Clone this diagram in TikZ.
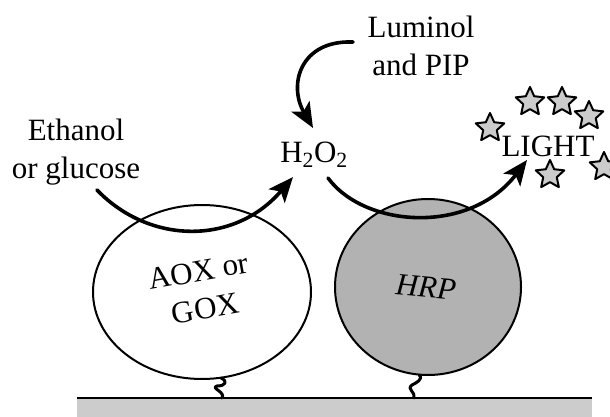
\documentclass[tikz,border=0pt]{standalone}
\usepackage{fontspec}
\setmainfont{Liberation Serif}
\usetikzlibrary{arrows.meta,shapes.geometric}
\tikzset{
  enzline/.style={line width=2pt},
  flow/.style={->,line width=3.6pt,line cap=round},
  tether/.style={line width=3pt,line cap=round},
  glow/.style={star,star points=5,star point ratio=2.1,minimum size=30pt,inner sep=0pt,draw,line width=2pt,fill=gray!40}
}
\begin{document}
\begin{tikzpicture}[x=1pt,y=-1pt,>={Stealth[length=25pt,width=21pt,inset=6pt]}, font=\fontsize{31}{38}\selectfont, line join=round]
\useasboundingbox (0,0) rectangle (610,417);
\fill[gray!40] (77,398) rectangle (592,417);
\draw[line width=2pt] (77,398)--(592,398);
\draw[enzline,fill=white] (202,292) ellipse [x radius=109, y radius=87];
\draw[enzline,fill=gray!60] (428,287) ellipse [x radius=93, y radius=88];
\draw[tether] (221,378) .. controls (228,381) and (226,386) .. (217,386) .. controls (210,388) and (226,392) .. (222,398);
\draw[tether] (419,375) .. controls (424,379) and (416,383) .. (412,385) .. controls (406,389) and (416,392) .. (414,398);
\node[align=center] (eth) at (76,152) {Ethanol\\or glucose};
\node[align=center] (lum) at (421,46) {Luminol\\and PIP};
\node[anchor=base] (hoo) at (314,162) {H\textsubscript{2}O\textsubscript{2}};
\node[anchor=base] (lgt) at (548,157) {LIGHT};
\node[align=center,rotate=10] (aox) at (202,290) {AOX or\\GOX};
\node[rotate=-5] (hrp) at (426,287) {\itshape HRP};
\coordinate (a1) at (97,190); \coordinate (b1) at (293,177);
\coordinate (c1) at (353,42); \coordinate (d1) at (313,128);
\coordinate (e1) at (328,178); \coordinate (f1) at (527,160);
\draw[flow] (a1) .. controls (150,245) and (235,245) .. (b1);
\draw[flow] (c1) .. controls (300,40) and (288,85) .. (d1);
\draw[flow] (e1) .. controls (365,228) and (470,235) .. (f1);
\node[glow] (s1) at (490,128) {};
\node[glow] (s2) at (530,102) {};
\node[glow] (s3) at (562,102) {};
\node[glow] (s4) at (589,116) {};
\node[glow] (s5) at (550,175) {};
\node[glow] (s6) at (604,167) {};
\end{tikzpicture}
\end{document}
